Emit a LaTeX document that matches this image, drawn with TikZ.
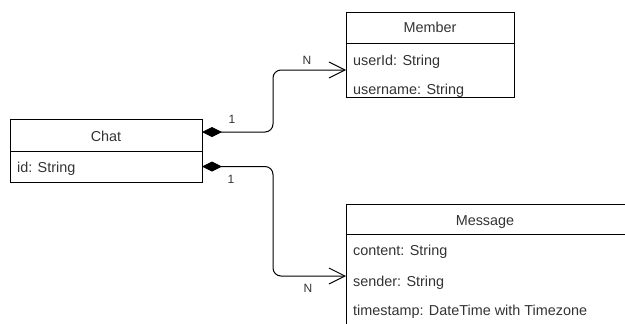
\documentclass[tikz,border=0pt]{standalone}
\usepackage{fontspec}
\setmainfont{Liberation Sans}
\usetikzlibrary{arrows.meta}
\begin{document}
\begin{tikzpicture}[x=1pt,y=-1pt,
  box/.style={draw=black, line width=1pt, inner sep=0pt, outer sep=0pt, anchor=north west},
  lbl/.style={font=\fontsize{14.4}{17}\selectfont, text=black!80, inner sep=0pt, anchor=base},
  attr/.style={lbl, anchor=base west},
  mult/.style={font=\fontsize{12}{14}\selectfont, text=black!80, inner sep=0pt, anchor=base},
  conn/.style={line width=1pt, rounded corners=8pt,
    {Diamond[length=20pt,width=10pt]}-{Straight Barb[length=16pt,width=16pt]}}]
\useasboundingbox (0,0) rectangle (625,324);
\clip (0,0) rectangle (625,324);
% Chat
\node[box, minimum width=192pt, minimum height=32pt] (chath) at (10,119) {};
\node[box, minimum width=192pt, minimum height=31pt] (chatb) at (10,151) {};
\node[lbl] (chatt) at (106,141) {Chat};
\node[attr] (chatid) at (17,172) {id: String};
% Member
\node[box, minimum width=168pt, minimum height=31pt] (memh) at (346,12) {};
\node[box, minimum width=168pt, minimum height=54pt] (memb) at (346,43) {};
\node[lbl] (memt) at (430,32) {Member};
\node[attr] (memuid) at (353,65) {userId: String};
\node[attr] (memun) at (353,94) {username: String};
% Message
\node[box, minimum width=300pt, minimum height=30pt] (msgh) at (346,204) {};
\node[box, minimum width=300pt, minimum height=106pt] (msgb) at (346,234) {};
\node[lbl] (msgt) at (485,225) {Message};
\node[attr] (msgc) at (353,255) {content: String};
\node[attr] (msgs) at (353,286) {sender: String};
\node[attr] (msgts) at (353,315) {timestamp: DateTime with Timezone};
% connectors
\draw[conn] ([yshift=3pt]chath.east) -- ++(71,0) |- (memb.west);
\draw[conn] (chatb.east) -- ++(71,0) |- ([yshift=11pt]msgb.west);
% multiplicities
\node[mult] (m1) at (232,123) {1};
\node[mult] (n1) at (307,64) {N};
\node[mult] (m2) at (231,183) {1};
\node[mult] (n2) at (308,292) {N};
\end{tikzpicture}
\end{document}
